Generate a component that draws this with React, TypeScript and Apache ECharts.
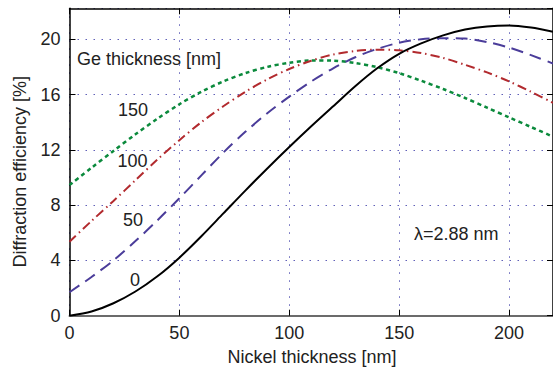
import React, { useEffect, useRef } from "react";
import * as echarts from "echarts";

// Nickel thickness [nm] sample points
const nickelThickness = [0, 10, 20, 30, 40, 50, 60, 70, 80, 90, 100, 110, 120, 130, 140, 150, 160, 170, 180, 190, 200, 210, 220];
// Diffraction efficiency [%] for each Ge thickness
const ge0 = [0, 0.3, 0.9, 1.75, 2.85, 4.2, 5.75, 7.4, 9.05, 10.65, 12.2, 13.7, 15.15, 16.6, 17.9, 18.95, 19.7, 20.28, 20.7, 20.93, 21.0, 20.85, 20.55];
const ge50 = [1.7, 2.8, 4.0, 5.4, 6.9, 8.5, 10.15, 11.8, 13.3, 14.65, 15.85, 16.95, 17.9, 18.7, 19.3, 19.75, 20.0, 20.08, 20.05, 19.8, 19.4, 18.85, 18.25];
const ge100 = [5.35, 6.85, 8.3, 9.8, 11.3, 12.7, 14.0, 15.15, 16.2, 17.1, 17.85, 18.45, 18.9, 19.15, 19.25, 19.2, 19.0, 18.65, 18.15, 17.6, 16.95, 16.2, 15.4];
const ge150 = [9.45, 10.7, 11.92, 13.12, 14.25, 15.3, 16.2, 16.95, 17.55, 18.0, 18.3, 18.47, 18.45, 18.28, 17.98, 17.55, 17.0, 16.4, 15.75, 15.05, 14.35, 13.65, 12.95];

const xTicks = [0, 50, 100, 150, 200];
const yTicks = [0, 4, 8, 12, 16, 20];

const FONT = "'Liberation Sans', Arial, sans-serif";
const gridDot = { color: "#6060b8", width: 1, type: [1.5, 6.5] as number[] };

function pairs(ys: number[]) {
  return nickelThickness.map((x, i) => [x, ys[i]]);
}

export default function App() {
  const ref = useRef<HTMLDivElement>(null);
  useEffect(() => {
    if (!ref.current) return;
    const chart = echarts.init(ref.current, undefined, { renderer: "svg" });
    const textStyle = (extra: any) => ({
      fontSize: 18,
      fontFamily: FONT,
      fill: "#222",
      ...extra,
    });
    const t = (text: string, x: number, y: number, align: string, extra: any = {}) => ({
      type: "text",
      x,
      y,
      ...extra,
      style: textStyle({ text, align, verticalAlign: "middle", textAlign: align, textVerticalAlign: "middle" }),
    });
    chart.setOption({
      animation: false,
      backgroundColor: "#fff",
      grid: { left: 69.5, top: 8.3, width: 485, height: 307.4 },
      xAxis: [
        {
          type: "value",
          position: "bottom",
          min: 0,
          max: 220,
          interval: 50,
          axisLine: { show: true, onZero: false, lineStyle: { color: "#6b6b6b", width: 2 } },
          axisTick: { show: true, inside: true, length: 6, lineStyle: { color: "#000", width: 1 } },
          axisLabel: {
            fontSize: 18,
            fontFamily: FONT,
            color: "#222",
            margin: 8,
            showMaxLabel: false,
            formatter: (v: number) => (xTicks.includes(v) ? String(v) : ""),
          },
          splitLine: { show: true, lineStyle: gridDot },
        },
        {
          type: "value",
          position: "top",
          min: 0,
          max: 220,
          interval: 50,
          axisLine: { show: true, onZero: false, lineStyle: { color: "#000", width: 1.5 } },
          axisTick: { show: true, inside: true, length: 6, lineStyle: { color: "#000", width: 1 } },
          axisLabel: { show: false },
          splitLine: { show: false },
        },
      ],
      yAxis: [
        {
          type: "value",
          position: "left",
          min: 0,
          max: 22.24,
          interval: 4,
          axisLine: { show: true, onZero: false, lineStyle: { color: "#000", width: 1.5 } },
          axisTick: { show: true, inside: true, length: 6, lineStyle: { color: "#000", width: 1 } },
          axisLabel: {
            fontSize: 18,
            fontFamily: FONT,
            color: "#222",
            margin: 9,
            showMaxLabel: false,
            formatter: (v: number) => (yTicks.includes(v) ? String(v) : ""),
          },
          splitLine: { show: true, lineStyle: gridDot },
        },
        {
          type: "value",
          position: "right",
          min: 0,
          max: 22.24,
          interval: 4,
          axisLine: { show: true, onZero: false, lineStyle: { color: "#000", width: 1.5 } },
          axisTick: { show: true, inside: true, length: 6, lineStyle: { color: "#000", width: 1 } },
          axisLabel: { show: false },
          splitLine: { show: false },
        },
      ],
      series: [
        {
          type: "line",
          name: "150",
          data: pairs(ge150),
          smooth: 0.3,
          symbol: "none",
          lineStyle: { color: "#0b8a3c", width: 2.5, type: [4, 3.5] },
        },
        {
          type: "line",
          name: "100",
          data: pairs(ge100),
          smooth: 0.3,
          symbol: "none",
          lineStyle: { color: "#b22a2e", width: 2, type: [9, 4, 1.5, 4] },
        },
        {
          type: "line",
          name: "50",
          data: pairs(ge50),
          smooth: 0.3,
          symbol: "none",
          lineStyle: { color: "#4b3d9a", width: 2, type: [12, 7] },
        },
        {
          type: "line",
          name: "0",
          data: pairs(ge0),
          smooth: 0.3,
          symbol: "none",
          lineStyle: { color: "#000", width: 2, type: "solid" },
        },
      ],
      graphic: [
        t("Ge thickness [nm]", 77, 58.5, "left"),
        t("150", 133, 110, "center"),
        t("100", 132.5, 161, "center"),
        t("50", 133, 219.7, "center"),
        t("0", 135, 279.7, "center"),
        t("λ=2.88 nm", 414, 233.5, "left"),
        t("Nickel thickness [nm]", 312, 356.5, "center"),
        t("Diffraction efficiency [%]", 20, 171.7, "center", { rotation: Math.PI / 2 }),
      ],
    });
    return () => chart.dispose();
  }, []);
  return (
    <div
      ref={ref}
      style={{ position: "fixed", left: 0, top: 0, width: 553, height: 371, background: "#fff" }}
    />
  );
}
